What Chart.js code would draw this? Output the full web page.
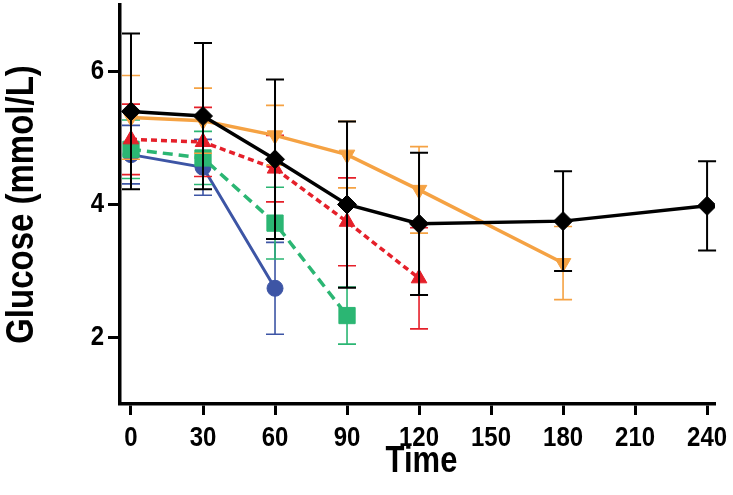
<!DOCTYPE html>
<html><head><meta charset="utf-8">
<script src="https://cdn.jsdelivr.net/npm/chart.js@4"></script>
<style>html,body{margin:0;padding:0;background:#fff;} canvas{display:block;}</style>
</head><body>
<canvas id="c" width="733" height="495"></canvas>
<script>
const xTicks = [0, 30, 60, 90, 120, 150, 180, 210, 240];
const yTicks = [2, 4, 6];
const xTitle = 'Time';
const yTitle = 'Glucose (mmol/L)';

const timeBlack = [0, 30, 60, 90, 120, 180, 240];
const meanBlack = [5.40, 5.33, 4.68, 4.00, 3.71, 3.75, 3.98];
const sdBlack   = [1.17, 1.10, 1.20, 1.25, 1.07, 0.75, 0.67];

const timeOrange = [0, 30, 60, 90, 120, 180];
const meanOrange = [5.31, 5.26, 5.04, 4.75, 4.22, 3.12];
const sdOrange   = [0.63, 0.49, 0.45, 0.50, 0.65, 0.55];

const timeRed = [0, 30, 60, 90, 120];
const meanRed = [4.98, 4.94, 4.54, 3.74, 2.89];
const sdRed   = [0.53, 0.52, 0.50, 0.66, 0.76];

const timeGreen = [0, 30, 60, 90];
const meanGreen = [4.83, 4.70, 3.72, 2.33];
const sdGreen   = [0.44, 0.40, 0.54, 0.43];

const timeBlue = [0, 30, 60];
const meanBlue = [4.75, 4.56, 2.74];
const sdBlue   = [0.44, 0.42, 0.69];

function pts(t, m) { return t.map((x, i) => ({ x: x, y: m[i] })); }

// keep the plot area where the layout padding puts it (no extra room for markers)
try { Chart.registry.getController('line').prototype.getMaxOverflow = function () { return 0; }; } catch (e) {}

const errorBars = {
  id: 'errorBars',
  beforeDatasetDraw(chart, args) {
    const ds = chart.data.datasets[args.index];
    if (!ds.sd) return;
    const xs = chart.scales.x, ys = chart.scales.y, ctx = chart.ctx;
    ctx.save();
    ctx.strokeStyle = ds.borderColor;
    ctx.lineWidth = ds.errWidth || 1.6;
    ctx.setLineDash([]);
    const cap = 9;
    ds.data.forEach((p, i) => {
      const px = xs.getPixelForValue(p.x);
      const top = ys.getPixelForValue(p.y + ds.sd[i]);
      const bot = ys.getPixelForValue(p.y - ds.sd[i]);
      ctx.beginPath();
      ctx.moveTo(px, top); ctx.lineTo(px, bot);
      ctx.moveTo(px - cap, top); ctx.lineTo(px + cap, top);
      ctx.moveTo(px - cap, bot); ctx.lineTo(px + cap, bot);
      ctx.stroke();
    });
    ctx.restore();
  }
};

const fam = "'Liberation Sans', Arial, Helvetica, sans-serif";
const STRETCH = 1.18; // reference glyphs are taller than Arial at the same width

function tallText(ctx, text, x, y, size, align, rot) {
  ctx.save();
  ctx.translate(x, y);
  if (rot) ctx.rotate(rot);
  ctx.scale(1, STRETCH);
  ctx.font = 'bold ' + size + 'px ' + fam;
  ctx.fillStyle = '#000';
  ctx.textAlign = align;
  ctx.textBaseline = 'middle';
  ctx.fillText(text, 0, 0);
  ctx.restore();
}

const axisText = {
  id: 'axisText',
  afterDraw(chart) {
    const xs = chart.scales.x, ys = chart.scales.y, ctx = chart.ctx, ca = chart.chartArea;
    xTicks.forEach(v => tallText(ctx, String(v), xs.getPixelForValue(v), ca.bottom + 34, 24, 'center', 0));
    yTicks.forEach(v => tallText(ctx, String(v), ca.left - 16, ys.getPixelForValue(v), 24, 'right', 0));
    tallText(ctx, xTitle, (ca.left + ca.right) / 2 + 4, ca.bottom + 58, 31, 'center', 0);
    tallText(ctx, yTitle, 22, (ca.top + ca.bottom) / 2, 33, 'center', -Math.PI / 2);
  }
};

new Chart(document.getElementById('c'), {
  type: 'line',
  data: {
    datasets: [
      { label: 'A', data: pts(timeBlack, meanBlack), sd: sdBlack, borderColor: '#000000', backgroundColor: '#000000',
        borderWidth: 3.5, pointStyle: 'rectRot', pointRadius: 9.5, pointBorderWidth: 1, errWidth: 2 },
      { label: 'B', data: pts(timeOrange, meanOrange), sd: sdOrange, borderColor: '#F5A243', backgroundColor: '#F5A243',
        borderWidth: 3.5, pointStyle: 'triangle', rotation: 180, pointRadius: 9, pointBorderWidth: 1 },
      { label: 'C', data: pts(timeRed, meanRed), sd: sdRed, borderColor: '#E5202A', backgroundColor: '#E5202A',
        borderWidth: 3.5, borderDash: [6, 4], pointStyle: 'triangle', pointRadius: 9, pointBorderWidth: 1 },
      { label: 'D', data: pts(timeGreen, meanGreen), sd: sdGreen, borderColor: '#2BB673', backgroundColor: '#2BB673',
        borderWidth: 3.5, borderDash: [10, 6], pointStyle: 'rect', pointRadius: 11.5, pointBorderWidth: 1 },
      { label: 'E', data: pts(timeBlue, meanBlue), sd: sdBlue, borderColor: '#3D55A5', backgroundColor: '#3D55A5',
        borderWidth: 3, pointStyle: 'circle', pointRadius: 8, pointBorderWidth: 1 }
    ]
  },
  options: {
    responsive: false,
    animation: false,
    devicePixelRatio: 1,
    layout: { padding: { top: 5, right: 18, left: 0, bottom: 0 } },
    plugins: { legend: { display: false }, tooltip: { enabled: false } },
    elements: { line: { tension: 0, fill: false } },
    scales: {
      x: {
        type: 'linear', min: -4.58, max: 243.3,
        afterBuildTicks: s => { s.ticks = xTicks.map(v => ({ value: v })); },
        afterFit: s => { s.height = 91; s.paddingLeft = 0; s.paddingRight = 0; },
        ticks: { display: false },
        grid: { display: true, drawOnChartArea: false, drawTicks: true, tickLength: 11, tickWidth: 3, tickColor: '#000' },
        border: { display: true, color: '#000', width: 3.5 },
        title: { display: false, text: xTitle }
      },
      y: {
        type: 'linear', min: 1, max: 7,
        afterBuildTicks: s => { s.ticks = yTicks.map(v => ({ value: v })); },
        afterFit: s => { s.width = 120; s.paddingTop = 0; s.paddingBottom = 0; },
        ticks: { display: false },
        grid: { display: true, drawOnChartArea: false, drawTicks: true, tickLength: 12, tickWidth: 3, tickColor: '#000' },
        border: { display: true, color: '#000', width: 3.5 },
        title: { display: false, text: yTitle }
      }
    }
  },
  plugins: [errorBars, axisText]
});
</script>
</body></html>
